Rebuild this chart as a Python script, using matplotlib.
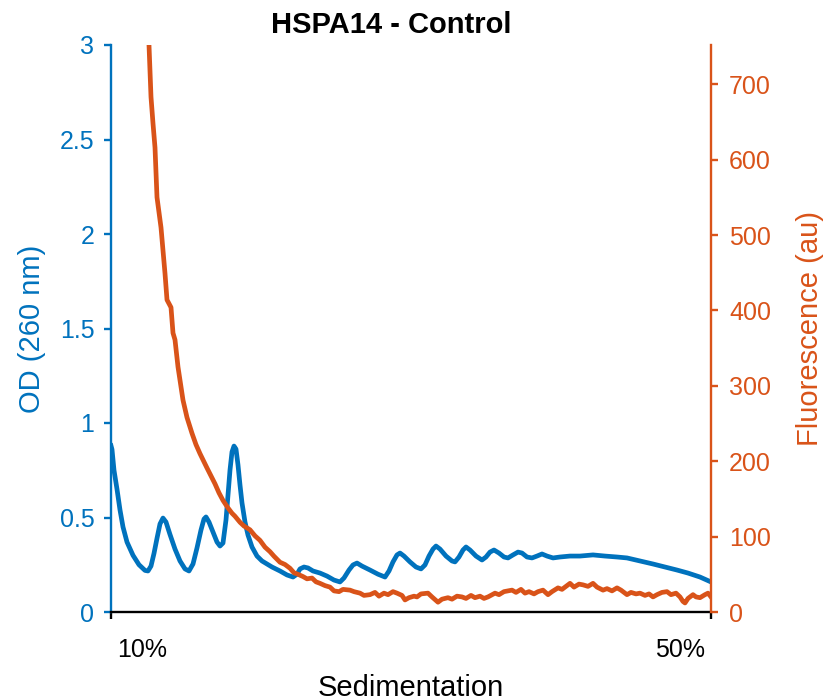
import matplotlib

matplotlib.use("Agg")
import matplotlib.pyplot as plt
from matplotlib.transforms import ScaledTranslation

plt.rcParams["font.family"] = ["Liberation Sans", "DejaVu Sans"]

BLUE = "#0072BD"
ORANGE = "#D95319"

# x = scan position along the gradient (0 = 10% top, 600 = 50% bottom)
od_x = [0, 1, 3, 6, 9, 12, 16, 22, 28, 34, 37, 40, 43, 46, 49, 52, 55, 59, 64, 69,
        74, 78, 82, 86, 90, 93, 95, 98, 102, 106, 109, 112, 115, 117, 119, 121, 123, 125, 127, 129,
        131, 134, 137, 141, 146, 151, 156, 161, 169, 176, 182, 186, 189, 193, 197, 202, 209, 216, 223, 229,
        233, 238, 242, 246, 251, 259, 267, 274, 278, 282, 286, 289, 293, 299, 305, 310, 314, 318, 322, 325,
        329, 335, 341, 344, 348, 352, 355, 359, 365, 371, 375, 379, 383, 388, 393, 397, 402, 407, 411, 416,
        421, 426, 431, 436, 442, 449, 459, 469, 482, 494, 506, 516, 529, 542, 554, 566, 577, 589, 600]
od_260 = [0.88, 0.86, 0.75, 0.65, 0.54, 0.45, 0.37, 0.30, 0.25, 0.22, 0.217, 0.243, 0.31, 0.39, 0.466, 0.497, 0.476, 0.41, 0.333, 0.27,
          0.228, 0.217, 0.254, 0.339, 0.434, 0.492, 0.503, 0.476, 0.423, 0.37, 0.349, 0.365, 0.487, 0.619, 0.751, 0.847, 0.878, 0.862, 0.778, 0.672,
          0.577, 0.476, 0.407, 0.344, 0.296, 0.27, 0.254, 0.238, 0.217, 0.196, 0.185, 0.20, 0.228, 0.238, 0.233, 0.217, 0.206, 0.19, 0.169, 0.159,
          0.18, 0.222, 0.249, 0.259, 0.243, 0.222, 0.20, 0.185, 0.217, 0.265, 0.302, 0.312, 0.296, 0.265, 0.238, 0.228, 0.249, 0.296, 0.333, 0.349,
          0.333, 0.296, 0.27, 0.265, 0.291, 0.328, 0.344, 0.328, 0.296, 0.275, 0.291, 0.317, 0.328, 0.312, 0.291, 0.286, 0.302, 0.317, 0.312, 0.291,
          0.286, 0.296, 0.307, 0.296, 0.286, 0.291, 0.296, 0.296, 0.302, 0.296, 0.291, 0.286, 0.27, 0.254, 0.238, 0.222, 0.206, 0.185, 0.159]

fluor_x = [36, 38, 40, 42, 44, 46, 50, 52, 54, 56, 60, 62, 64, 67, 72, 76, 81, 85, 89, 93,
           96, 101, 104, 108, 112, 117, 121, 124, 129, 133, 139, 144, 149, 154, 159, 163, 169, 174, 179, 183,
           187, 192, 196, 201, 205, 209, 214, 219, 223, 228, 232, 239, 243, 249, 253, 259, 264, 268, 273, 277,
           282, 286, 291, 294, 298, 303, 306, 310, 317, 321, 327, 331, 337, 341, 346, 351, 355, 360, 364, 369,
           373, 377, 384, 388, 393, 401, 405, 410, 414, 418, 423, 427, 432, 437, 441, 447, 451, 456, 459, 463,
           468, 472, 477, 482, 486, 492, 496, 501, 506, 510, 516, 520, 525, 529, 534, 538, 542, 546, 551, 556,
           560, 565, 569, 572, 574, 577, 582, 585, 589, 594, 597, 600]
fluor_au = [775, 752, 683, 648, 616, 550, 510, 480, 449, 414, 404, 370, 361, 325, 281, 258, 237, 222, 210, 199,
            191, 178, 170, 158, 148, 138, 131, 127, 119, 114, 109, 101, 95, 86, 80, 74, 66, 63, 58, 52,
            50, 47, 44, 45, 40, 38, 35, 33, 28, 27, 30, 29, 27, 25, 22, 23, 26, 21, 25, 23,
            27, 25, 22, 16, 19, 21, 20, 24, 25, 20, 13, 17, 19, 17, 21, 20, 18, 22, 19, 21,
            18, 20, 25, 23, 27, 29, 26, 30, 25, 27, 24, 27, 29, 23, 27, 32, 30, 35, 38, 33,
            37, 36, 34, 38, 33, 29, 31, 28, 32, 29, 23, 26, 24, 25, 22, 24, 20, 23, 26, 27,
            23, 25, 20, 14, 12, 18, 23, 20, 19, 23, 25, 20]

x_ticks = [0, 600]
x_ticklabels = ["10%", "50%"]
od_ticks = [0, 0.5, 1, 1.5, 2, 2.5, 3]
od_ticklabels = ["0", "0.5", "1", "1.5", "2", "2.5", "3"]
fluor_ticks = [0, 100, 200, 300, 400, 500, 600, 700]

fig = plt.figure(figsize=(8.24, 7), dpi=100)
ax = fig.add_axes([111 / 824, 88 / 700, 600 / 824, 567 / 700])
ax.plot(od_x, od_260, color=BLUE, linewidth=3.4)
ax.set_xlim(0, 600)
ax.set_ylim(0, 3)

ax2 = ax.twinx()
ax2.plot(fluor_x, fluor_au, color=ORANGE, linewidth=3.4)
ax2.set_ylim(0, 752)

for s in ["top", "right"]:
    ax.spines[s].set_visible(False)
for s in ["top", "left", "bottom"]:
    ax2.spines[s].set_visible(False)
ax.spines["left"].set_color(BLUE)
ax.spines["left"].set_linewidth(1.7)
ax.spines["bottom"].set_color("black")
ax.spines["bottom"].set_linewidth(1.7)
ax2.spines["right"].set_color(ORANGE)
ax2.spines["right"].set_linewidth(1.7)

ax.set_xticks(x_ticks)
ax.set_xticklabels(x_ticklabels)
ax.set_yticks(od_ticks)
ax.set_yticklabels(od_ticklabels)
ax2.set_yticks(fluor_ticks)

ax.tick_params(axis="x", colors="black", direction="out", length=5, width=1.7, labelsize=18, pad=14)
ax.tick_params(axis="y", colors=BLUE, direction="out", length=5, width=1.7, labelsize=18, pad=7)
ax2.tick_params(axis="y", colors=ORANGE, direction="out", length=5, width=1.7, labelsize=18, pad=8)

# MATLAB-style: end labels pulled inward from the tick marks
xlabels = ax.get_xticklabels()
for lab, ha, dx in zip(xlabels, ["left", "right"], [6, -6]):
    lab.set_horizontalalignment(ha)
    lab.set_transform(lab.get_transform() + ScaledTranslation(dx / 100, 0, fig.dpi_scale_trans))

ax.set_xlabel("Sedimentation", fontsize=21, labelpad=8)
ax.set_ylabel("OD (260 nm)", fontsize=21, color=BLUE, labelpad=10)
ax2.set_ylabel("Fluorescence (au)", fontsize=21, color=ORANGE, labelpad=18)

fig.text(391 / 824, 1 - 33 / 700, "HSPA14 - Control", ha="center", va="baseline",
         fontsize=21, fontweight="bold")

fig.savefig("out.png", dpi=100)
